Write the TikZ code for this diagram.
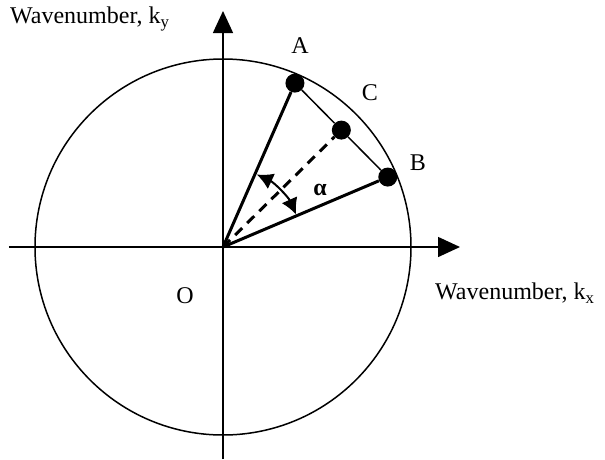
\documentclass[tikz,border=0pt]{standalone}
\usepackage{fontspec}
\setmainfont{Liberation Serif}
\usetikzlibrary{arrows.meta,calc}

\begin{document}
\begin{tikzpicture}[x=1pt,y=1pt,font=\fontsize{24}{28}\selectfont,
  dot/.style={circle,fill,inner sep=0,minimum size=19pt},
  lbl/.style={inner sep=0}]
\useasboundingbox (-223,-212) rectangle (382,247);
\coordinate (O) at (0,0);
\coordinate (xl) at (-214,0);
\coordinate (xr) at (237,0);
\coordinate (yb) at (0,-212);
\coordinate (yt) at (0,236);
\draw[line width=1.5pt] (O) circle (188pt);
\path[-{Triangle[length=22pt,width=20pt]},line width=1.5pt]
(xl) edge (xr)
(yb) edge (yt);
\node[dot] (A) at (66.3:179) {};
\node[dot] (B) at (23:179) {};
\node[dot] (C) at ($(A)!0.5!(B)$) {};
\draw[line width=1.5pt] (A) -- (C) -- (B);
\draw[line width=3pt] (O) -- (A) (O) -- (B);
\draw[line width=3pt,dash pattern=on 10pt off 7pt] (O) -- (C);
\draw[{Latex[length=16pt,width=17pt]}-{Latex[length=16pt,width=17pt]},line width=2pt]
([shift={(65:80)}]O) arc[start angle=65,end angle=24,radius=80pt];
\node[lbl] (la) at (77,201) {A};
\node[lbl] (lc) at (147,154) {C};
\node[lbl] (lb) at (195,84) {B};
\node[lbl] (lo) at (-38,-49) {O};
\node[lbl] (lal) at (97,57) {\bfseries α};
\node[lbl,anchor=north west] (lx) at (212,-36) {Wavenumber, k\textsubscript{x}};
\node[lbl,anchor=north west] (ly) at (-213,240) {Wavenumber, k\textsubscript{y}};
\end{tikzpicture}
\end{document}
